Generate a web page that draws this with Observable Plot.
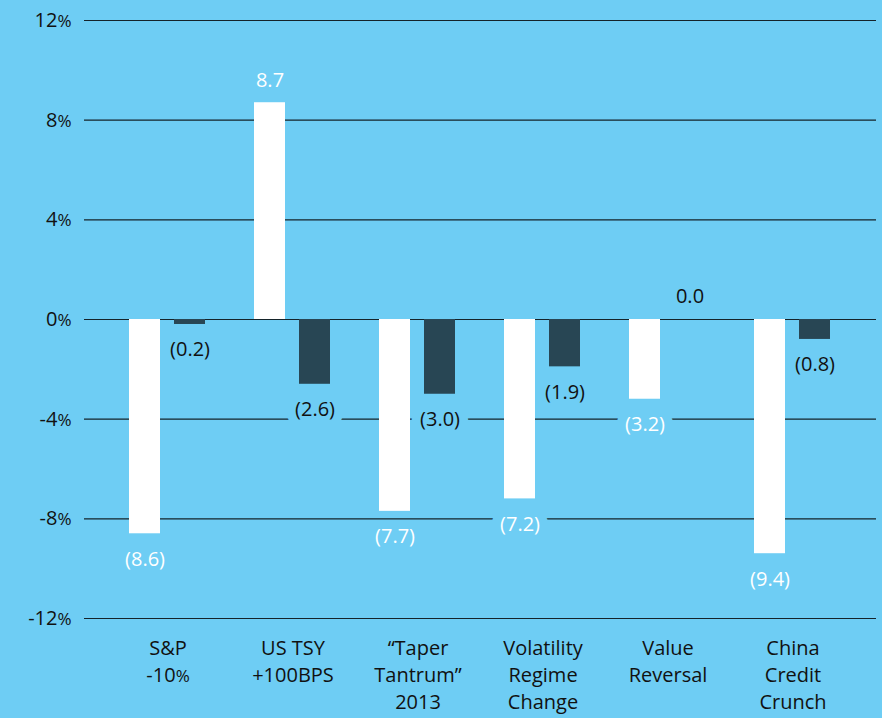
<!DOCTYPE html>
<html><head><meta charset="utf-8">
<script src="https://cdn.jsdelivr.net/npm/d3@7"></script>
<script src="https://cdn.jsdelivr.net/npm/@observablehq/plot@0.6"></script>
<style>html,body{margin:0;padding:0;background:#6ecdf4;}</style>
</head><body><div id="chart"></div>
<script>
const categories = ["S&P\n-10%", "US TSY\n+100BPS", "“Taper\nTantrum”\n2013", "Volatility\nRegime\nChange", "Value\nReversal", "China\nCredit\nCrunch"];
const seriesA = [-8.6, 8.7, -7.7, -7.2, -3.2, -9.4];
const seriesB = [-0.2, -2.6, -3.0, -1.9, 0.0, -0.8];
const yTicks = [-12, -8, -4, 0, 4, 8, 12];

const BG = "#6ecdf4", DARK = "#284654", INK = "#111", GRID = "#14232a";
const rowsA = categories.map((c, i) => ({category: c, value: seriesA[i]}));
const rowsB = categories.map((c, i) => ({category: c, value: seriesB[i]}));
const fmt = v => v < 0 ? `(${Math.abs(v).toFixed(1)})` : v.toFixed(1);

const labelMarks = (rows, fill, dx) => [
  Plot.text(rows.filter(d => d.value < 0), {x: "category", y: "value", text: d => fmt(d.value), dx, dy: 25.5,
    fill, stroke: BG, strokeWidth: 18, paintOrder: "stroke", fontSize: 20}),
  Plot.text(rows.filter(d => d.value >= 0), {x: "category", y: "value", text: d => fmt(d.value), dx, dy: -22.5,
    fill, stroke: BG, strokeWidth: 18, paintOrder: "stroke", fontSize: 20})
];

const svg = Plot.plot({
  width: 882, height: 718,
  marginTop: 20, marginBottom: 100, marginLeft: 84, marginRight: 6,
  style: {background: BG, fontFamily: "'Open Sans', sans-serif", fontSize: "20px", color: INK},
  x: {domain: categories, inset: 21, padding: 0, axis: null},
  y: {domain: [-12, 12], ticks: yTicks, tickFormat: d => `${d}%`, tickSize: 0, tickPadding: 13, label: null},
  marks: [
    Plot.ruleY(yTicks, {stroke: GRID, strokeWidth: 1.2}),
    Plot.barY(rowsA, {x: "category", y: "value", fill: "#fff", insetLeft: 24, insetRight: 70}),
    Plot.barY(rowsB, {x: "category", y: "value", fill: DARK, insetLeft: 69, insetRight: 25}),
    ...labelMarks(rowsA, "#fff", -23),
    ...labelMarks(rowsB, INK, 22),
    Plot.text(categories, {x: d => d, text: d => d, frameAnchor: "bottom", lineAnchor: "top", dy: 17,
      lineHeight: 1.35, fill: INK, fontSize: 20})
  ]
});

// smaller percent sign
svg.querySelectorAll("text, tspan").forEach(el => {
  if (el.childNodes.length === 1 && el.firstChild.nodeType === 3) {
    const t = el.firstChild.nodeValue;
    if (t.endsWith("%")) {
      el.firstChild.nodeValue = t.slice(0, -1);
      const ts = document.createElementNS("http://www.w3.org/2000/svg", "tspan");
      ts.setAttribute("font-size", "0.85em");
      ts.textContent = "%";
      el.appendChild(ts);
    }
  }
});
document.getElementById("chart").appendChild(svg);
</script>
</body></html>
